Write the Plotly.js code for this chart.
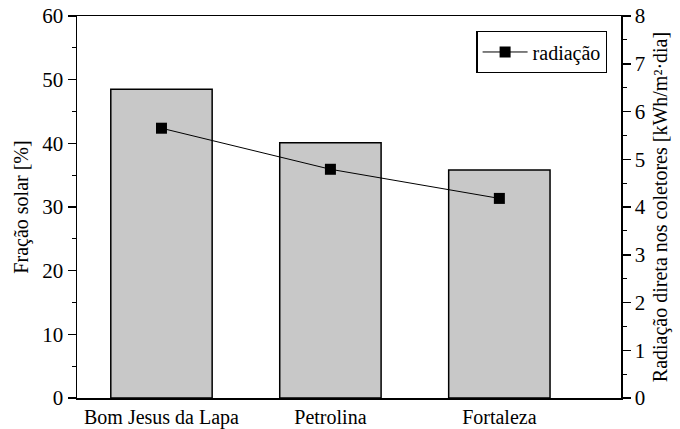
<!DOCTYPE html>
<html><head><meta charset="utf-8">
<script src="https://cdn.plot.ly/plotly-3.0.1.min.js"></script>
<style>body{margin:0;padding:0;background:#fff}#chart{width:680px;height:429px}</style>
</head><body><div id="chart"></div>
<script>
const cities = ["Bom Jesus da Lapa", "Petrolina", "Fortaleza"];
const solarFraction = [48.5, 40.1, 35.8];
const radiation = [5.65, 4.79, 4.18];
const leftTicks = [0, 10, 20, 30, 40, 50, 60];
const rightTicks = [0, 1, 2, 3, 4, 5, 6, 7, 8];

const font = {family: "Liberation Serif, Times New Roman, serif", color: "#000"};
const traces = [
  {type: "bar", x: cities, y: solarFraction, width: 0.6, showlegend: false,
   marker: {color: "#c8c8c8", line: {color: "#000", width: 1.5}}, hoverinfo: "none"},
  {type: "scatter", mode: "lines+markers", x: cities, y: radiation, yaxis: "y2", name: "radiação",
   line: {color: "#000", width: 1}, marker: {symbol: "square", size: 11, color: "#000"}}
];
const layout = {
  width: 680, height: 429,
  margin: {l: 77, r: 59, t: 16, b: 31},
  paper_bgcolor: "#fff", plot_bgcolor: "#fff",
  font: Object.assign({size: 20}, font),
  showlegend: true,
  legend: {x: 0.975, y: 0.96, xanchor: "right", yanchor: "top", bordercolor: "#000", borderwidth: 1.2,
           bgcolor: "#fff", itemwidth: 45, font: Object.assign({size: 20}, font)},
  xaxis: {range: [-0.5, 2.72], showline: true, linecolor: "#000", linewidth: 1.5, mirror: true,
          ticks: "", showgrid: false, zeroline: false, tickfont: Object.assign({size: 20}, font)},
  yaxis: {range: [0, 60], tickvals: leftTicks, ticks: "outside", ticklen: 8, tickwidth: 1.5, tickcolor: "#000",
          showline: true, linecolor: "#000", linewidth: 1.5, showgrid: false, zeroline: false,
          minor: {dtick: 5, ticks: "outside", ticklen: 4, tickwidth: 1, tickcolor: "#000", showgrid: false},
          tickfont: Object.assign({size: 21}, font),
          title: {text: "Fração solar [%]", font: Object.assign({size: 20}, font), standoff: 8}},
  yaxis2: {range: [0, 8], tickvals: rightTicks, overlaying: "y", side: "right", ticks: "outside", ticklen: 8,
           tickwidth: 1.5, tickcolor: "#000", showline: true, linecolor: "#000", linewidth: 1.5,
           showgrid: false, zeroline: false,
           minor: {dtick: 0.5, ticks: "outside", ticklen: 4, tickwidth: 1, tickcolor: "#000", showgrid: false},
           tickfont: Object.assign({size: 21}, font),
           title: {text: "Radiação direta nos coletores [kWh/m²·dia]", font: Object.assign({size: 20}, font), standoff: 8}}
};
Plotly.newPlot("chart", traces, layout, {displayModeBar: false, staticPlot: true});
</script></body></html>
